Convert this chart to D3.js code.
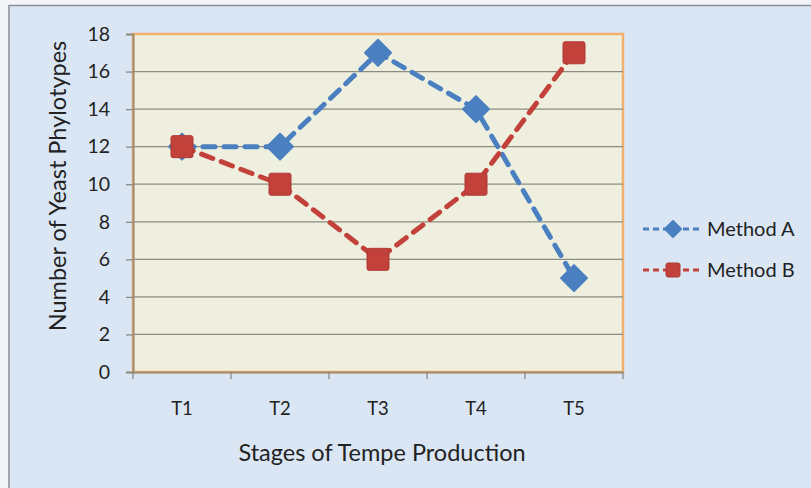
<!DOCTYPE html>
<html>
<head>
<meta charset="utf-8">
<script src="https://cdn.jsdelivr.net/npm/d3@7"></script>
<style>
  body { margin: 0; background: #f4f6f9; }
  svg { display: block; }
  svg text { font-family: Lato, "Open Sans", sans-serif; }
</style>
</head>
<body>
<svg id="chart" width="811" height="488"></svg>
<script>
const categories = ["T1", "T2", "T3", "T4", "T5"];
const methodA = [12, 12, 17, 14, 5];
const methodB = [12, 10, 6, 10, 17];
const yTicks = [0, 2, 4, 6, 8, 10, 12, 14, 16, 18];
const seriesNames = ["Method A", "Method B"];

const svg = d3.select("#chart");
const W = 811, H = 488;
const plot = { left: 133, top: 34, right: 623, bottom: 372 };

// outer chart area
svg.append("rect").attr("x", 0).attr("y", 0).attr("width", W).attr("height", H).attr("fill", "#f3f5f8");
svg.append("rect").attr("x", 9).attr("y", 5.5).attr("width", W + 10).attr("height", H + 10)
  .attr("fill", "#dbe6f4").attr("stroke", "#8a8e94").attr("stroke-width", 1.5);

const x = d3.scaleBand().domain(categories).range([plot.left, plot.right]);
const y = d3.scaleLinear().domain([0, 18]).range([plot.bottom, plot.top]);

// plot background
svg.append("rect").attr("x", plot.left).attr("y", plot.top)
  .attr("width", plot.right - plot.left).attr("height", plot.bottom - plot.top)
  .attr("fill", "#eeefdf").attr("stroke", "#f0b070").attr("stroke-width", 2.5);

// gridlines
svg.append("g").selectAll("line").data(yTicks.filter(d => d > 0 && d < 18)).join("line")
  .attr("x1", plot.left).attr("x2", plot.right)
  .attr("y1", d => y(d)).attr("y2", d => y(d))
  .attr("stroke", "#8c8c80").attr("stroke-width", 1.3);

// y axis
const yAxis = svg.append("g").attr("transform", `translate(${plot.left},0)`)
  .call(d3.axisLeft(y).tickValues(yTicks).tickSize(7).tickPadding(16));
yAxis.attr("font-size", null).attr("font-family", null);
yAxis.select(".domain").attr("stroke", "#a08c70").attr("stroke-width", 2);
yAxis.selectAll(".tick line").attr("stroke", "#8a8a80").attr("stroke-width", 1.3);
yAxis.selectAll("text").style("font-size", "19.5px").attr("fill", "#222");

// x axis
const xAxis = svg.append("g").attr("transform", `translate(0,${plot.bottom})`)
  .call(d3.axisBottom(x).tickSize(0).tickPadding(0));
xAxis.attr("font-size", null).attr("font-family", null);
xAxis.select(".domain").attr("stroke", "#a08c70").attr("stroke-width", 2);
xAxis.selectAll("text").attr("dy", null).attr("y", 43).style("font-size", "18.5px").attr("fill", "#222");
// category boundary ticks
const bounds = categories.map(c => x(c)).concat([x(categories[categories.length - 1]) + x.bandwidth()]);
svg.append("g").selectAll("line").data(bounds).join("line")
  .attr("x1", d => d).attr("x2", d => d)
  .attr("y1", plot.bottom).attr("y2", plot.bottom + 7)
  .attr("stroke", "#8a8a80").attr("stroke-width", 1.3);

// axis titles
svg.append("text").attr("transform", `translate(66,186) rotate(-90)`)
  .attr("text-anchor", "middle").style("font-size", "23.5px").attr("fill", "#222")
  .text("Number of Yeast Phylotypes");
svg.append("text").attr("x", 382).attr("y", 461)
  .attr("text-anchor", "middle").style("font-size", "23.5px").attr("fill", "#222")
  .text("Stages of Tempe Production");

const cx = d => x(d) + x.bandwidth() / 2;
const line = d3.line().x(d => cx(d[0])).y(d => y(d[1]));

const blue = "#4a7fc0", red = "#c2413b";

function drawSeries(vals, color, marker) {
  const pts = categories.map((c, i) => [c, vals[i]]);
  svg.append("path").datum(pts).attr("d", line)
    .attr("fill", "none").attr("stroke", color).attr("stroke-width", 5)
    .attr("stroke-dasharray", "12,9").attr("stroke-linecap", "round");
  const g = svg.append("g");
  pts.forEach(p => marker(g, cx(p[0]), y(p[1]), color));
}

function diamond(g, px, py, color, s = 13) {
  g.append("path").attr("d", `M${px},${py - s}L${px + s},${py}L${px},${py + s}L${px - s},${py}Z`)
    .attr("fill", color).attr("stroke", color).attr("stroke-width", 2).attr("stroke-linejoin", "round");
}
function square(g, px, py, color, s = 22) {
  g.append("rect").attr("x", px - s / 2).attr("y", py - s / 2).attr("width", s).attr("height", s)
    .attr("rx", 2).attr("fill", color).attr("stroke", "#b03a35").attr("stroke-width", 1);
}

drawSeries(methodA, blue, (g, px, py, c) => diamond(g, px, py, c));
drawSeries(methodB, red, (g, px, py, c) => square(g, px, py, c));

// legend
const legend = svg.append("g");
const legY = [229, 270];
[[blue, diamond, 8], [red, square, 14]].forEach((item, i) => {
  const [color, mk, s] = item;
  legend.append("line").attr("x1", 643).attr("x2", 703).attr("y1", legY[i]).attr("y2", legY[i])
    .attr("stroke", color).attr("stroke-width", 3).attr("stroke-dasharray", "6,4");
  mk(legend, 673, legY[i], color, s);
  legend.append("text").attr("x", 707).attr("y", legY[i] + 7)
    .style("font-size", "20px").attr("fill", "#222").text(seriesNames[i]);
});
</script>
</body>
</html>
